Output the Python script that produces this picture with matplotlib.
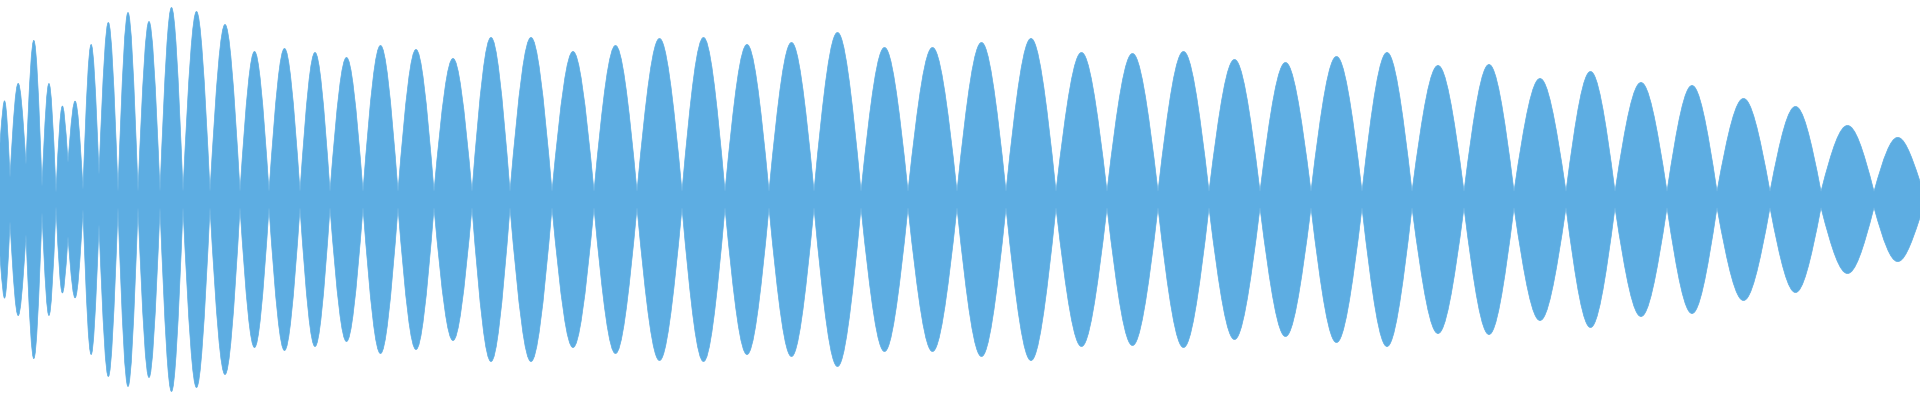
import matplotlib
matplotlib.use('Agg')
import matplotlib.pyplot as plt
from matplotlib.path import Path
from matplotlib.patches import PathPatch

#Posicion de los nodos de la envolvente (columna de muestra)
nodos = [0, 10, 26, 42, 56, 68, 83, 99, 118, 138, 160, 183, 210, 240, 269, 300,
         330, 363, 398, 434, 472, 510, 552, 594, 637, 682, 725, 769, 814, 861,
         908, 957, 1006, 1056, 1107, 1158, 1209, 1260, 1311, 1362, 1412, 1464,
         1514, 1566, 1615, 1667, 1717, 1770, 1821, 1874, 1920]

#Amplitud en cada nodo
nivel_nodo = [56, 22, 35, 13, 7, 37, 10, 25, 8, 8, 8, 8, 8, 8, 8, 8,
              8, 8, 8, 8, 8, 8, 8, 8, 8, 8, 8, 8, 8, 8,
              8, 8, 8, 8, 8, 8, 8, 8, 8, 8, 8, 8,
              8, 8, 8, 8, 8, 8, 8, 8, 18]

#Amplitud maxima de cada lobulo (entre dos nodos)
picos = [98, 116, 159, 116, 93, 98, 155, 177, 187, 178, 192, 188, 175, 148,
         151, 147, 142, 154, 150, 141, 162, 162, 148, 154, 161, 162, 155, 157,
         167, 152, 152, 157, 161, 147, 146, 148, 140, 137, 143, 147, 134, 135,
         121, 128, 117, 114, 101, 93, 74, 62]

color = '#5dade2'

#Arcos de la envolvente
def arcos(signo):
    verts = []
    codes = []
    for i in range(len(picos)):
        x0, x1 = nodos[i], nodos[i + 1]
        y0, y1 = nivel_nodo[i], nivel_nodo[i + 1]
        w = x1 - x0
        c = (picos[i] - (y0 + y1) / 8.0) / 0.75
        if i == 0:
            verts.append((x0, signo * y0))
            codes.append(Path.MOVETO if signo > 0 else Path.LINETO)
        verts += [(x0 + 0.424 * w, signo * c), (x1 - 0.424 * w, signo * c), (x1, signo * y1)]
        codes += [Path.CURVE4] * 3
    return verts, codes

v_sup, c_sup = arcos(1)
v_inf, c_inf = arcos(-1)

#El borde inferior se recorre al reves
v_inv = [v_inf[-1]]
c_inv = [Path.LINETO]
for k in range(len(v_inf) - 1, 0, -3):
    v_inv += [v_inf[k - 1], v_inf[k - 2], v_inf[k - 3]]
    c_inv += [Path.CURVE4] * 3

verts = v_sup + v_inv + [v_sup[0]]
codes = c_sup + c_inv + [Path.CLOSEPOLY]

fig = plt.figure(figsize=(19.2, 4), dpi=100)
ax = fig.add_axes([0, 0, 1, 1])
ax.add_patch(PathPatch(Path(verts, codes), facecolor=color, edgecolor=color, lw=0.5))
ax.set_xlim(0, 1920)
ax.set_ylim(-200.5, 199.5)
ax.axis('off')
fig.savefig('out.png', dpi=100)
